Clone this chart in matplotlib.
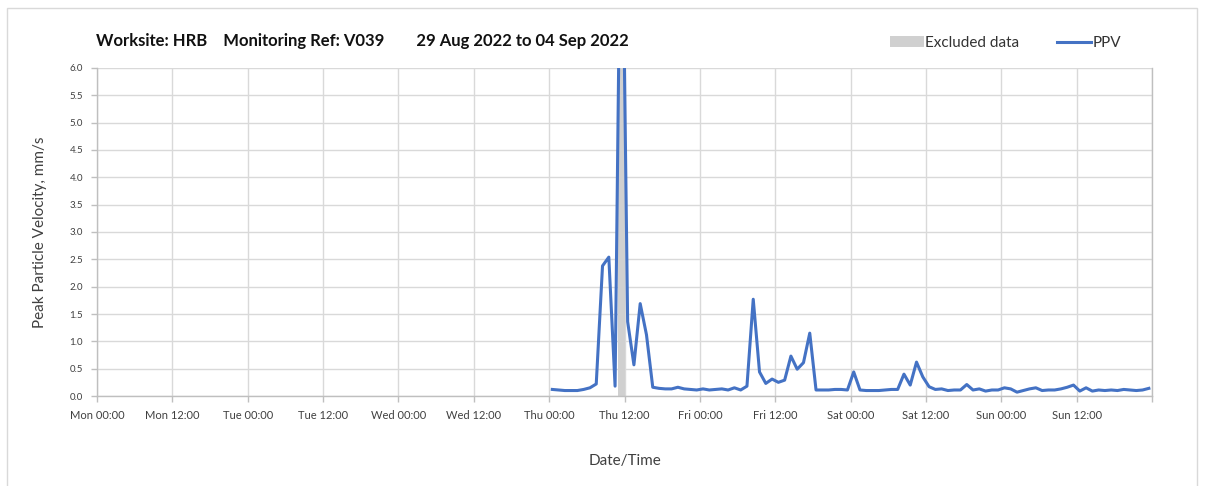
import numpy as np
import pandas as pd
import matplotlib
matplotlib.use("Agg")
import matplotlib.pyplot as plt
import matplotlib.dates as mdates
from matplotlib.patches import Rectangle, Patch
from matplotlib.lines import Line2D

plt.rcParams['font.family'] = ['Lato', 'DejaVu Sans']

# hourly PPV readings, Thu 01 Sep 00:30 -> Sun 04 Sep 23:30
start = "2022-09-01 00:30"
ppv = [
    0.12, 0.11, 0.10, 0.10, 0.10, 0.12, 0.15, 0.22, 2.38, 2.54, 0.18, 10.5,
    1.36, 0.57, 1.69, 1.12, 0.16, 0.14, 0.13, 0.13, 0.16, 0.13, 0.12, 0.11,
    0.13, 0.11, 0.12, 0.13, 0.11, 0.15, 0.11, 0.18, 1.77, 0.44, 0.23, 0.31,
    0.25, 0.29, 0.73, 0.49, 0.61, 1.15, 0.11, 0.11, 0.11, 0.12, 0.12, 0.11,
    0.44, 0.11, 0.10, 0.10, 0.10, 0.11, 0.12, 0.12, 0.40, 0.20, 0.62, 0.35,
    0.17, 0.12, 0.13, 0.10, 0.11, 0.11, 0.21, 0.11, 0.13, 0.09, 0.11, 0.11,
    0.15, 0.13, 0.07, 0.10, 0.13, 0.15, 0.10, 0.11, 0.11, 0.13, 0.16, 0.20,
    0.09, 0.15, 0.09, 0.11, 0.10, 0.11, 0.10, 0.12, 0.11, 0.10, 0.11, 0.14,
]
times = pd.date_range(start, periods=len(ppv), freq="h")

excluded_start = "2022-09-01 11:00"
excluded_end = "2022-09-01 12:00"

x_start = pd.Timestamp("2022-08-29 00:00")
x_end = pd.Timestamp("2022-09-05 00:00")
y_ticks = np.arange(0, 6.01, 0.5)

title = "Worksite: HRB    Monitoring Ref: V039        29 Aug 2022 to 04 Sep 2022"

fig = plt.figure(figsize=(12.05, 4.86), dpi=100)
ax = fig.add_axes([97 / 1205, 1 - 396 / 486, (1152 - 97) / 1205, (396 - 68) / 486])

# outer frame
fig.patches.append(Rectangle((7 / 1205, -0.05), (1197 - 7) / 1205, 1 - 8 / 486 + 0.05,
                             transform=fig.transFigure, fill=False,
                             edgecolor='#d9d9d9', linewidth=1.0))

ax.axvspan(pd.Timestamp(excluded_start), pd.Timestamp(excluded_end),
           color='#d0d0d0', linewidth=0, zorder=1)
ax.plot(times, ppv, color='#4472C4', linewidth=2.2, zorder=3)

ax.set_xlim(x_start, x_end)
ax.set_ylim(0, 6)
ax.set_yticks(y_ticks)
ax.yaxis.set_major_formatter(matplotlib.ticker.FormatStrFormatter('%.1f'))
ax.xaxis.set_major_locator(mdates.HourLocator(byhour=[0, 12]))
end_num = mdates.date2num(x_end)
day_fmt = mdates.DateFormatter('%a %H:%M')
ax.xaxis.set_major_formatter(matplotlib.ticker.FuncFormatter(
    lambda v, pos: '' if abs(v - end_num) < 1e-6 else day_fmt(v, pos)))

ax.grid(True, color='#d9d9d9', linewidth=1.0, zorder=0)
ax.set_axisbelow(True)
ax.spines['top'].set_visible(False)
for side in ['left', 'bottom', 'right']:
    ax.spines[side].set_color('#bfbfbf')
    ax.spines[side].set_linewidth(1.0)
ax.tick_params(axis='both', colors='#bfbfbf', labelcolor='#404040', length=4, width=1)
ax.tick_params(axis='x', labelsize=8, pad=6)
ax.tick_params(axis='y', labelsize=7, pad=6)

ax.set_xlabel("Date/Time", fontsize=11, color='#404040', labelpad=24)
ax.set_ylabel("Peak Particle Velocity, mm/s", fontsize=11, color='#404040', labelpad=16)

fig.text(96 / 1205, 1 - 46 / 486, title, fontsize=12, fontweight='bold',
         color='#111111', ha='left', va='baseline')

handles = [Patch(facecolor='#d0d0d0', edgecolor='none', label='Excluded data'),
           Line2D([0], [0], color='#4472C4', linewidth=2.2, label='PPV')]
fig.legend(handles=handles, loc='center right', bbox_to_anchor=(1135 / 1205, 1 - 43 / 486),
           ncol=2, frameon=False, fontsize=11, handlelength=2.2, handletextpad=0.1,
           columnspacing=2.5, labelcolor='#333333')

fig.savefig("out.png", dpi=100)
